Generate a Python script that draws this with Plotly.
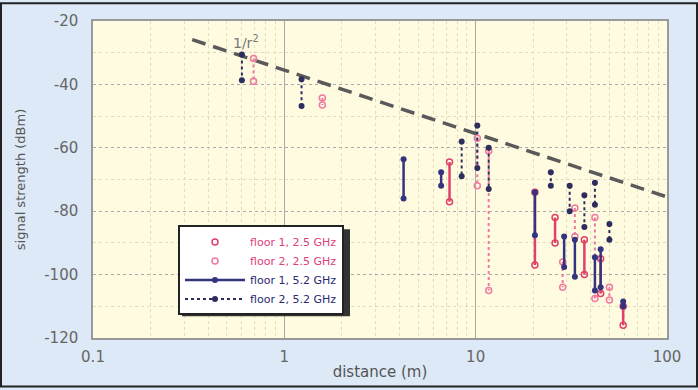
import plotly.graph_objects as go
import numpy as np

# ---- data: (distance m, top dBm, bottom dBm) per measurement location ----
f1_25_d   = [7.3, 20.4, 26, 37, 45, 59]
f1_25_top = [-64.5, -74, -82, -89, -95, -110]
f1_25_bot = [-77, -97, -90, -100, -106, -116]

f2_25_d   = [0.69, 1.58, 10.2, 11.7, 28.5, 33, 42, 50]
f2_25_top = [-31.8, -44.3, -57, -61, -96, -79, -82, -104]
f2_25_bot = [-39, -46.5, -72, -105, -104, -88, -107.5, -108]

f1_52_d   = [4.2, 6.6, 20.4, 29, 33, 42, 45, 59]
f1_52_top = [-63.6, -67.7, -74, -88, -89, -94.5, -92, -108.5]
f1_52_bot = [-76, -72, -87.6, -97.6, -100.7, -105, -104, -110]

f2_52_d   = [0.6, 1.23, 8.45, 10.2, 11.7, 24.7, 31, 37, 42, 50]
f2_52_top = [-30.6, -38.4, -58, -53, -60, -67.7, -72, -75, -71, -84]
f2_52_bot = [-38.7, -46.8, -69, -66.4, -73, -72, -80, -85, -78, -89]

ref_d = [0.33, 100]          # 1/r^2 reference line
ref_db = [-35.5 - 20*np.log10(v) for v in ref_d]

y_ticks = [-20, -40, -60, -80, -100, -120]
y_ticktext = ["-20", "-40", "-60", "-80", "-100", "-120"]
x_ticks = [0.1, 1, 10, 100]
x_ticktext = ["0.1", "1", "10", "100"]

PINK1, PINK2, NAVY1, NAVY2 = "#e0406a", "#f07aa0", "#34347e", "#2e2e5e"
names = ["<span style='color:#e0407a'>floor 1, 2.5 GHz</span>",
         "<span style='color:#e0407a'>floor 2, 2.5 GHz</span>",
         "<span style='color:#2a2a70'>floor 1, 5.2 GHz</span>",
         "<span style='color:#2a2a70'>floor 2, 5.2 GHz</span>"]


def segs(d, top, bot):
    xs, ys = [], []
    for a, t, b in zip(d, top, bot):
        xs += [a, a, None]
        ys += [t, b, None]
    return xs, ys


fig = go.Figure()

fig.add_trace(go.Scatter(x=ref_d, y=ref_db, mode="lines",
                         line=dict(color="#5a5a5a", width=3.5, dash="14px,8px"),
                         showlegend=False, hoverinfo="skip"))

# 2.5 GHz: connecting lines (no legend) + markers (legend shows marker only)
x, y = segs(f2_25_d, f2_25_top, f2_25_bot)
fig.add_trace(go.Scatter(x=x, y=y, mode="lines", showlegend=False,
                         line=dict(color=PINK2, width=2, dash="dot")))
fig.add_trace(go.Scatter(x=x, y=y, mode="markers", name=names[1], legendrank=2,
                         marker=dict(symbol="circle-open", size=6, color=PINK2, line=dict(width=1.5))))
x, y = segs(f1_25_d, f1_25_top, f1_25_bot)
fig.add_trace(go.Scatter(x=x, y=y, mode="lines", showlegend=False,
                         line=dict(color=PINK1, width=2.5)))
fig.add_trace(go.Scatter(x=x, y=y, mode="markers", name=names[0], legendrank=1,
                         marker=dict(symbol="circle-open", size=6, color=PINK1, line=dict(width=1.5))))

x, y = segs(f2_52_d, f2_52_top, f2_52_bot)
fig.add_trace(go.Scatter(x=x, y=y, mode="lines+markers", name=names[3], legendrank=4,
                         line=dict(color=NAVY2, width=2, dash="dot"),
                         marker=dict(symbol="circle", size=6, color=NAVY2)))
x, y = segs(f1_52_d, f1_52_top, f1_52_bot)
fig.add_trace(go.Scatter(x=x, y=y, mode="lines+markers", name=names[2], legendrank=3,
                         line=dict(color=NAVY1, width=2.5),
                         marker=dict(symbol="circle", size=6, color=NAVY1)))

fig.add_annotation(x=float(np.log10(0.63)), y=-26.5, xref="x", yref="y",
                   text="1/r<sup>2</sup>", showarrow=False, yanchor="middle",
                   font=dict(size=14, color="#777777", family="DejaVu Sans"))

L, R, T, B = 93, 31, 19, 50
W, H = 698, 390
pw, ph = W - L - R, H - T - B


def px_x(p):
    return (p - L) / pw


def px_y(p):
    return 1 - (p - T) / ph


# outer image border
fig.add_shape(type="rect", xref="paper", yref="paper",
              x0=px_x(1), x1=px_x(W - 1), y0=px_y(H - 1), y1=px_y(1),
              line=dict(color="#222222", width=2), fillcolor="rgba(0,0,0,0)", layer="above")
# legend drop shadow
fig.add_shape(type="rect", xref="paper", yref="paper",
              x0=px_x(182), x1=px_x(350), y0=px_y(318), y1=px_y(230),
              line=dict(width=0), fillcolor="#333333", layer="above")

fig.update_layout(
    width=W, height=H,
    margin=dict(l=L, r=R, t=T, b=B),
    paper_bgcolor="#dde9f6",
    plot_bgcolor="#fffbe0",
    font=dict(family="DejaVu Sans", size=14, color="#555555"),
    legend=dict(x=px_x(178), y=px_y(226), xanchor="left", yanchor="top",
                bgcolor="white", bordercolor="#222222", borderwidth=2,
                font=dict(size=11), traceorder="normal", tracegroupgap=0,
                itemwidth=60),
)

fig.update_xaxes(type="log", range=[-1, 2],
                 tickvals=x_ticks, ticktext=x_ticktext,
                 showline=True, linecolor="#999999", linewidth=1.5, mirror=True,
                 showgrid=True, gridcolor="#aaaaaa", gridwidth=1,
                 minor=dict(showgrid=True, gridcolor="#e0dcc0", griddash="dot",
                            tickvals=[v * 10**e for e in (-1, 0, 1) for v in range(2, 10)]),
                 ticks="", ticklabelstandoff=4, tickfont=dict(size=15, color="#666666"),
                 title=dict(text="distance (m)", standoff=2, font=dict(size=15, color="#555555")),
                 zeroline=False)
fig.update_yaxes(range=[-120, -20], tickvals=y_ticks, ticktext=y_ticktext,
                 showline=True, linecolor="#999999", linewidth=1.5, mirror=True,
                 showgrid=True, gridcolor="#aaaaaa", griddash="dot", gridwidth=1,
                 minor=dict(showgrid=True, gridcolor="#e0dcc0", griddash="dot",
                            tickvals=[-30, -50, -70, -90, -110]),
                 ticks="", ticklabelstandoff=10, tickfont=dict(size=15, color="#666666"),
                 title=dict(text="signal strength (dBm)", standoff=16, font=dict(size=13, color="#555555")),
                 zeroline=False)

fig.write_html("out.html", post_script="document.body.style.margin='0';",
               config={"displayModeBar": False})
